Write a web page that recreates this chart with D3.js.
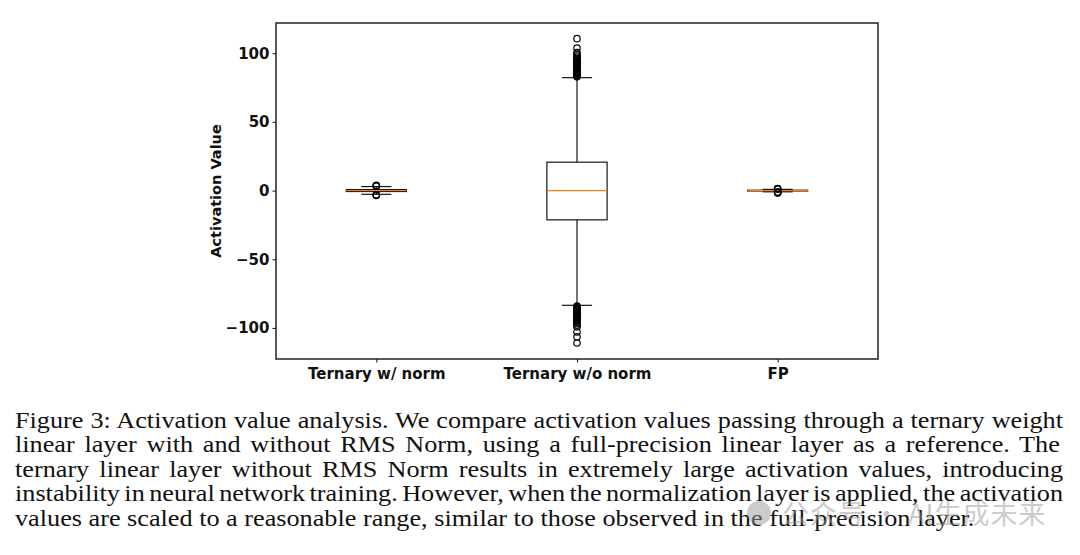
<!DOCTYPE html>
<html>
<head>
<meta charset="utf-8">
<script src="https://cdn.jsdelivr.net/npm/d3@7"></script>
<style>
  body { margin: 0; background: #fff; }
</style>
</head>
<body>
<svg id="chart" width="1080" height="555"></svg>
<script>
// categories and box statistics
const categories = ["Ternary w/ norm", "Ternary w/o norm", "FP"];
const q1 = [-0.7, -21.3, -0.3];
const medians = [0, 0, 0];
const q3 = [0.7, 20.7, 0.3];
const whiskerLow = [-2.7, -83.5, -0.9];
const whiskerHigh = [2.9, 82.2, 0.9];
const outliers = [
  [3.2, 3.5, 3.8, -3.0, -3.3, -3.6],
  [82.8, 83.4, 84.1, 84.7, 85.3, 86.0, 86.6, 87.2, 87.9, 88.5, 89.1, 89.8, 90.4, 91.1, 91.7,
   92.4, 93.0, 93.8, 94.5, 95.3, 96.2, 97.1, 98.0, 99.1, 100.4, 103.8, 110.6,
   -84.0, -84.6, -85.3, -85.9, -86.6, -87.2, -87.9, -88.6, -89.3, -90.0, -90.8, -91.5, -92.3,
   -93.1, -94.0, -94.9, -95.8, -96.8, -97.9, -99.2, -102.9, -106.5, -110.9],
  [1.1, 1.3, 1.5, -1.1, -1.3, -1.5, -1.7]
];
const yTicks = [-100, -50, 0, 50, 100];

const captionLines = [
  "Figure 3: Activation value analysis. We compare activation values passing through a ternary weight",
  "linear layer with and without RMS Norm, using a full-precision linear layer as a reference.  The",
  "ternary linear layer without RMS Norm results in extremely large activation values, introducing",
  "instability in neural network training. However, when the normalization layer is applied, the activation",
  "values are scaled to a reasonable range, similar to those observed in the full-precision layer."
];

const svg = d3.select("#chart");
const plotLeft = 276, plotRight = 878, plotTop = 23, plotBottom = 359;

const x = d3.scaleLinear().domain([0.5, 3.5]).range([plotLeft, plotRight]);
const y = d3.scaleLinear().domain([-122.6, 122]).range([plotBottom, plotTop]);
const boxW = x(1.3) - x(1);

const data = categories.map((c, i) => ({
  name: c, pos: i + 1, q1: q1[i], med: medians[i], q3: q3[i],
  lo: whiskerLow[i], hi: whiskerHigh[i], out: outliers[i]
}));

const boxes = svg.append("g").selectAll("g.box").data(data).enter().append("g").attr("class", "box");

// whiskers
boxes.append("line")
  .attr("x1", d => x(d.pos)).attr("x2", d => x(d.pos))
  .attr("y1", d => y(d.q3)).attr("y2", d => y(d.hi))
  .attr("stroke", "#000").attr("stroke-width", 1.1);
boxes.append("line")
  .attr("x1", d => x(d.pos)).attr("x2", d => x(d.pos))
  .attr("y1", d => y(d.q1)).attr("y2", d => y(d.lo))
  .attr("stroke", "#000").attr("stroke-width", 1.1);

// caps
["hi", "lo"].forEach(k => {
  boxes.append("line")
    .attr("x1", d => x(d.pos) - boxW / 4).attr("x2", d => x(d.pos) + boxW / 4)
    .attr("y1", d => y(d[k])).attr("y2", d => y(d[k]))
    .attr("stroke", "#000").attr("stroke-width", 1.1);
});

// box
boxes.append("rect")
  .attr("x", d => x(d.pos) - boxW / 2)
  .attr("y", d => y(d.q3))
  .attr("width", boxW)
  .attr("height", d => y(d.q1) - y(d.q3))
  .attr("fill", "none").attr("stroke", "#000").attr("stroke-width", 1.1);

// median
boxes.append("line")
  .attr("x1", d => x(d.pos) - boxW / 2).attr("x2", d => x(d.pos) + boxW / 2)
  .attr("y1", d => y(d.med)).attr("y2", d => y(d.med))
  .attr("stroke", "#ff7f0e").attr("stroke-width", 1.1);

// fliers
boxes.each(function(d) {
  d3.select(this).selectAll("circle").data(d.out).enter().append("circle")
    .attr("cx", x(d.pos)).attr("cy", v => y(v)).attr("r", 3.2)
    .attr("fill", "none").attr("stroke", "#000").attr("stroke-width", 1.2);
});

// axes
const yAxis = d3.axisLeft(y).tickValues(yTicks).tickSize(3.5).tickPadding(3).tickFormat(d3.format("d"));
const xAxis = d3.axisBottom(x).tickValues([1, 2, 3]).tickSize(3.5).tickPadding(6).tickFormat((d, i) => categories[i]);

const ya = svg.append("g").attr("transform", `translate(${plotLeft},0)`).call(yAxis);
const xa = svg.append("g").attr("transform", `translate(0,${plotBottom})`).call(xAxis);
[ya, xa].forEach(a => {
  a.select(".domain").remove();
  a.selectAll("line").attr("stroke", "#222").attr("stroke-width", 1.1);
  a.selectAll("text").attr("fill", "#111")
    .style("font-family", "'DejaVu Sans', sans-serif").style("font-weight", "bold").style("font-size", "15px");
});

// frame
svg.append("rect").attr("x", plotLeft).attr("y", plotTop)
  .attr("width", plotRight - plotLeft).attr("height", plotBottom - plotTop)
  .attr("fill", "none").attr("stroke", "#222").attr("stroke-width", 1.5);

// y label
svg.append("text")
  .attr("transform", `translate(221,${(plotTop + plotBottom) / 2}) rotate(-90)`)
  .attr("text-anchor", "middle")
  .style("font-family", "'DejaVu Sans', sans-serif").style("font-weight", "bold").style("font-size", "14.5px")
  .attr("fill", "#111")
  .text("Activation Value");

// caption: slightly wide serif, justified by stretching word spaces (last line ragged)
const capText = svg.append("g").selectAll("text").data(captionLines).enter().append("text")
  .attr("x", 0).attr("y", 0)
  .attr("fill", "#111")
  .style("font-family", "'Liberation Serif', 'Times New Roman', serif")
  .style("font-size", "24px")
  .text(d => d);
const lastNatural = capText.nodes()[captionLines.length - 1].getComputedTextLength();
const sx = 960 / lastNatural;
capText.each(function(d, i) {
  d3.select(this).attr("transform", `translate(15,${428 + i * 24.4}) scale(${sx},1)`);
  if (i === captionLines.length - 1) return;
  const natural = this.getComputedTextLength();
  const spaces = (d.match(/ /g) || []).length;
  d3.select(this).style("word-spacing", ((1048 / sx - natural) / spaces) + "px");
});

// watermark
const wm = svg.append("g").attr("opacity", 0.5);
wm.append("circle").attr("cx", 759).attr("cy", 513).attr("r", 12).attr("fill", "#9a9a9a");
wm.append("text")
  .attr("x", 782).attr("y", 524)
  .attr("fill", "#9a9a9a")
  .style("font-family", "'Noto Sans CJK SC', sans-serif").style("font-size", "27px")
  .style("letter-spacing", "1px")
  .text("公众号 · AI生成未来");
</script>
</body>
</html>
